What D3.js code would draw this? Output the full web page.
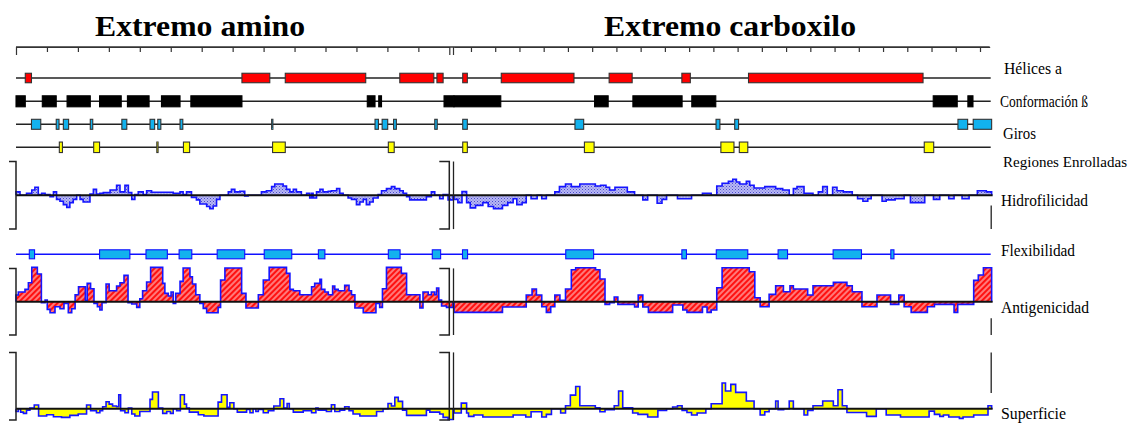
<!DOCTYPE html>
<html>
<head>
<meta charset="utf-8">
<script src="https://cdn.jsdelivr.net/npm/d3@7"></script>
<style>
  body { margin: 0; background: #fff; }
  svg { display: block; }
</style>
</head>
<body>
<svg id="chart" width="1132" height="423"></svg>
<script>
// ---- residue ranges of the two panels ----
const aminoDomain = [0, 140];
const carboxyDomain = [143, 364];
const aminoTicks = d3.range(10, 140, 10);
const carboxyTicks = d3.range(150, 361, 10);

const panelTitles = ["Extremo amino", "Extremo carboxilo"];
const trackNames = ["Hélices a", "Conformación ß", "Giros", "Regiones Enrolladas",
                    "Hidrofilicidad", "Flexibilidad", "Antigenicidad", "Superficie"];

// ---- predicted structural segments [start, end] (residues) ----
const helixAmino   = [[3,5],[73,82],[87,113],[124,135],[136,138]];
const helixCarboxy = [[146.6,148.5],[162.5,192.5],[207,216.5],[237,240.5],[264.5,336.5]];

const betaAmino   = [[0,3],[8.5,13],[16.5,24],[27,34],[36,43],[47,53],[56.5,73],[113.5,116],[117.2,118.1],[138.3,141.5]];
const betaCarboxy = [[143,162.3],[201,206.6],[216.8,237.1],[241.1,251],[340.7,350.6],[355,357.1]];

const turnAmino   = [[5,8],[13,13.9],[15.3,17],[24,24.8],[34.2,35.8],[43.3,44.8],[45.8,46.8],[53,53.9],[82.6,83],[116,117.1],[118.3,120.1],[122,122.9],[135.3,136.1]];
const turnCarboxy = [[146.6,148.5],[192.9,196.5],[251.1,252.7],[258.8,260.4],[350.9,354.9],[357.2,364.8]];

const coilAmino   = [[14,15],[25.1,27],[45.5,45.9],[54.1,56.1],[82.9,87],[120.3,122.2]];
const coilCarboxy = [[146.6,148.5],[196.8,200.8],[253.1,258.5],[260.7,264.2],[337,340.9]];

const flexAmino   = [[4.3,6],[27,36.8],[42,48.9],[52.7,56.8],[65,73.9],[80.2,89.1],[97.7,99.8],[120.3,124.1],[134.5,137.2]];
const flexCarboxy = [[146.5,148.6],[189.1,200.6],[237,238.9],[251.2,264.2],[276.7,280.6],[299.4,311.1],[323.2,324.5]];

// ---- profiles: [start residue, value], each step runs to the next start ----
const profileEndAmino = 141.2;
const profileEndCarboxy = 364.8;

const hydroAmino = [[0,0.3],[1.3,0],[3.4,0.18],[5.1,0.47],[6.1,0.71],[7.2,0.06],[8.3,0.18],[9.4,0.06],[11,-0.12],[12.1,0.3],[13.1,-0.36],[14.2,-0.53],[15.3,-0.83],[16.4,-1.07],[17.4,-0.65],[18.5,-0.36],[19.6,0],[20.7,-0.36],[21.7,-0.59],[23.9,0.12],[25,0.53],[26,0.12],[27.1,0.18],[28.2,0.24],[30.4,0.47],[32.5,0.89],[33.6,0.3],[35.2,0.89],[36.3,0.24],[37.4,-0.36],[38.4,0.06],[39.5,0.3],[41.1,0.06],[42.2,0.41],[43.8,0.27],[50.8,0.18],[53,0.3],[54,0.06],[55.1,0.3],[56.7,-0.18],[58.3,-0.41],[59.4,-0.77],[61.6,-1.0],[62.6,-1.18],[63.7,-0.95],[64.8,-0.36],[65.9,0],[68.6,0.3],[69.6,0.53],[70.7,0.3],[72.3,0.36],[73.9,-0.06],[75,0],[79.3,0.3],[80.9,0.41],[82.6,0.77],[83.6,1.0],[86.3,0.83],[87.4,0.53],[88.5,0.3],[89.6,0.53],[90.6,0.3],[92.2,0],[93.9,0.18],[94.9,-0.24],[95.5,0.18],[96,-0.24],[97.1,0.3],[98.2,0.53],[99.2,0.3],[100.9,0.36],[101.9,0.41],[103.6,0.59],[104.6,0.18],[105.7,0],[107.3,-0.24],[108.4,-0.36],[110,-0.83],[111.1,-0.59],[112.2,-0.36],[113.2,-0.83],[114.3,-0.59],[115.4,-0.24],[117,0.06],[118.1,0.41],[119.7,0.59],[121.3,0.77],[122.4,0.59],[124,0.41],[125.1,0.18],[126.2,-0.12],[127.2,-0.41],[132.6,-0.12],[134.2,0.3],[135.3,0],[136.9,-0.3],[138,0.06],[139.6,-0.41]];

const hydroCarboxy = [[143,-0.36],[144.6,-0.65],[146.3,0.33],[148.2,-0.65],[149.7,-1.12],[151.9,-0.89],[154.9,-0.65],[157.1,-1.0],[159.3,-1.18],[163,-0.89],[165.2,-0.65],[167.4,-0.3],[168.9,-0.83],[171.1,-0.65],[172.8,0],[174.8,-0.3],[177.3,0],[179.2,-0.3],[181.1,0],[184.6,0.3],[186.5,0.77],[189,1.0],[191.4,0.77],[194.9,1.0],[201.3,0.83],[203.5,0.89],[205.7,0.71],[207.2,0.47],[209.4,0.71],[214.5,0.3],[217.5,0],[220.9,-0.41],[222.9,0],[226.8,-0.71],[228.8,-0.36],[230.7,0],[235.2,-0.3],[241,0],[245.5,0.18],[249.1,0],[251.4,0.83],[253.6,1.07],[256.2,1.24],[258,1.42],[259.5,1.18],[260.9,1.0],[263.6,1.24],[265,0.89],[266.8,0.65],[271.2,0.77],[275.7,0.59],[278.6,0.47],[281.3,0],[283,0.59],[284.5,0.77],[287.4,0.18],[291.1,0],[293.3,0.3],[295.1,0.77],[297,0],[299.2,0.71],[301,0.41],[303.6,0.3],[307.3,0],[309.5,-0.3],[311.7,-0.53],[313.7,-0.3],[315.1,0],[319.6,-0.53],[321.3,-0.41],[325,-0.3],[328.7,0],[331.3,-0.65],[337.2,0],[340.8,-0.36],[343.4,0],[347.1,-0.3],[349.3,0],[352.6,-0.3],[355.5,0],[358.9,0.41],[362.6,0.3]];

const antigAmino = [[0,0.6],[0.75,0.87],[2.9,1.11],[4,1.71],[5.1,3.09],[6.9,2.49],[8.2,-0.09],[9.4,0.15],[10.1,-0.69],[11,-0.99],[12.6,-0.45],[14.2,-0.63],[15.5,-0.15],[16.9,-0.99],[18,-0.63],[19.1,0.63],[20.2,1.35],[22.4,0.1],[23,1.65],[24.1,1.17],[25.2,-0.15],[26.3,-0.45],[27.1,-0.75],[27.8,-0.1],[29.1,1.59],[30.1,0.99],[32.5,1.41],[33.6,1.71],[34.9,2.37],[36.2,-0.09],[37.4,-0.21],[39,-0.51],[40,0.27],[40.9,0.99],[42.2,1.77],[43.5,3.09],[47.4,1.65],[48.1,0.75],[49.2,0.51],[50.1,0.87],[50.8,-0.15],[51.6,0.75],[53,1.83],[54,3.03],[56.2,2.25],[57,1.59],[58.1,0.63],[59.4,-0.15],[60.5,-0.6],[61.6,-0.99],[65.3,-0.51],[66.1,1.95],[67.5,3.03],[72.9,0.75],[74.3,-0.57],[78.3,0.63],[79.9,1.95],[81.8,3.09],[87.4,2.55],[88.5,1.11],[89.6,0.99],[91.7,0.63],[95.5,1.35],[96.5,1.65],[98.2,2.01],[98.7,1.11],[99.8,0.87],[100.9,0.63],[102.3,1.41],[103,1.11],[104.1,0.99],[106.2,1.47],[107.6,0.99],[108.4,0.63],[109.5,-0.57],[112.2,-0.99],[116.3,-0.15],[117.5,-0.51],[118.4,1.17],[119.7,3.09],[124.5,2.55],[126.2,0.63],[130.5,-0.57],[131.5,0.87],[133.2,0.63],[134.2,0.87],[135.3,0.63],[135.9,1.23],[136.6,0.15],[137.5,-0.39],[139.1,-0.51]];

const antigCarboxy = [[143,-0.96],[163,-0.48],[172.8,0.6],[175.2,1.14],[177,0.6],[179.2,-0.45],[181.1,-0.96],[182.9,-0.45],[184.6,0.6],[186.7,0.12],[189,1.14],[191.4,2.88],[193.2,3.06],[201.4,2.88],[203.2,2.04],[205.3,-0.24],[207.2,-0.1],[209.1,0.42],[210.6,-0.24],[217.5,-0.48],[219,0.6],[220.9,-0.48],[223.2,-0.96],[233.2,-0.3],[237.4,-0.75],[239.1,-0.96],[245.5,-0.48],[247.4,-0.96],[249.1,-0.75],[251.4,1.26],[253.6,3.06],[264.8,2.7],[267.1,0.36],[269.3,-0.45],[273,0.66],[275.7,1.44],[278.9,0.9],[281.6,1.44],[283,1.14],[288.9,0.6],[291.1,1.44],[299.5,1.74],[305.1,1.44],[307.3,0.9],[311.3,-0.45],[317.5,0.6],[323.1,-0.24],[326.5,0.6],[328.7,-0.45],[331.6,-0.96],[338.3,-0.45],[341.2,-0.24],[349.3,-0.96],[350.8,-0.24],[357.4,1.92],[359.3,2.4],[361.4,3.06]];

const surfAmino = [[0,-0.24],[0.75,0],[1.5,-0.3],[2.4,-0.41],[3.4,-0.12],[4.5,0.06],[5.9,0.33],[7.3,-0.65],[9.9,-0.53],[12.1,-0.71],[14.7,-0.77],[17.4,-0.59],[20.1,-0.47],[22.8,0.33],[24.1,-0.18],[26,-0.36],[27.1,-0.18],[28,0.18],[29.1,0.62],[30.1,0.41],[31.2,0.24],[32.5,0.18],[33.2,1.24],[33.8,-0.18],[35.2,-0.36],[36.3,0.06],[37.4,-0.47],[38.4,-0.65],[40,-0.24],[43.3,0.83],[44.1,1.48],[46,0.06],[47.4,-0.41],[48.7,-0.24],[49.9,-0.41],[50.8,0],[51.9,-0.18],[53.1,1.24],[54.4,0.41],[55.1,0.06],[56,-0.3],[58.9,-0.53],[60.7,-0.65],[65.3,0.59],[66.4,1.24],[68.2,0.12],[69.1,0.53],[70.4,0],[71.5,-0.3],[74.5,-0.06],[75.6,-0.36],[76.6,0],[77.5,-0.24],[78.3,-0.06],[79.9,-0.36],[81.5,-0.18],[83.3,0.24],[85.3,0.89],[86.5,0.06],[87.6,0.47],[88.3,0],[89.6,-0.3],[92.8,-0.18],[95.5,-0.36],[96.9,0.06],[97.6,-0.12],[100.3,-0.24],[101.9,0.36],[103,-0.24],[104.6,-0.12],[106.2,0.18],[107.6,-0.18],[108.9,-0.47],[111.1,-0.65],[116.5,-0.24],[118.6,0],[120.2,0.47],[121.3,0.24],[122.4,1.01],[123.5,0.65],[124.9,-0.12],[126.2,-0.59],[132.6,-0.12],[133.7,-0.3],[136.9,-0.47],[138,-0.77],[139.6,-0.95]];

const surfCarboxy = [[143,-0.38],[146,0.5],[148.2,-0.38],[149,-0.68],[151.2,-0.56],[154.9,-0.74],[167.4,-0.56],[172.6,-0.74],[174.8,-0.27],[179.2,-0.74],[181.1,-0.5],[183.2,0],[187,-0.38],[189,0.27],[191,1.21],[193.2,1.98],[194.9,0.27],[201.3,0.09],[203.2,-0.27],[205.3,-0.09],[209.1,0.27],[210.9,1.57],[212.6,0.09],[216.7,-0.38],[218.9,-0.5],[222.9,-0.74],[227.1,-0.15],[230.7,0],[233.2,0.15],[235.2,0.27],[237.1,-0.15],[239.1,-0.33],[241,-0.56],[243.3,-0.38],[246.9,0],[249.1,0.44],[253.6,2.28],[255,1.57],[257.2,2.16],[259.2,1.45],[263.6,0.68],[266.8,0],[269.3,-0.56],[271.2,-0.27],[273,0],[275.7,0.68],[276.7,-0.09],[279,0],[281.3,0.68],[283,0],[287.4,-0.56],[288.9,-0.15],[291.1,0.27],[295.1,0.68],[299.5,0.27],[301.4,1.69],[303.2,0.27],[305.1,-0.33],[313.2,-0.68],[317.2,0],[321.3,-0.56],[327.2,-0.74],[339,-0.21],[341.2,-0.5],[343.4,-0.68],[344.9,-0.56],[347.1,-0.74],[351.5,-0.86],[353,-0.74],[357.4,-0.56],[363.3,0.27]];

// ---- drawing ----
const svg = d3.select("#chart");
svg.append("rect").attr("width", 1132).attr("height", 423).attr("fill", "#fff");

const xA = d3.scaleLinear().domain(aminoDomain).range([16, 449.3]);
const xC = d3.scaleLinear().domain(carboxyDomain).range([454, 989.7]);
const panels = [
  { x: xA, end: profileEndAmino },
  { x: xC, end: profileEndCarboxy }
];

const defs = svg.append("defs");
// stippled fill for hydrophilicity
const dots = defs.append("pattern").attr("id", "dots").attr("width", 3).attr("height", 3)
  .attr("patternUnits", "userSpaceOnUse");
dots.append("rect").attr("width", 3).attr("height", 3).attr("fill", "#b8b8f2");
dots.append("rect").attr("width", 1).attr("height", 1).attr("fill", "#4a4ad0");
dots.append("rect").attr("x", 1.5).attr("y", 1.5).attr("width", 1).attr("height", 1).attr("fill", "#6a6ae0");
// hatched red fill for antigenicity
const hatch = defs.append("pattern").attr("id", "hatch").attr("width", 4).attr("height", 4)
  .attr("patternUnits", "userSpaceOnUse").attr("patternTransform", "rotate(45)");
hatch.append("rect").attr("width", 4).attr("height", 4).attr("fill", "#ff1010");
hatch.append("line").attr("x1", 1).attr("x2", 1).attr("y1", 0).attr("y2", 4)
  .attr("stroke", "#ffd0d0").attr("stroke-width", 1.1);

// titles
const titleFont = "'Liberation Serif', 'Times New Roman', serif";
const titleLayout = [{ cx: 200, w: 210 }, { cx: 730, w: 252 }];
panelTitles.forEach((t, i) => {
  svg.append("text").attr("x", titleLayout[i].cx).attr("y", 36)
    .attr("text-anchor", "middle").attr("font-family", titleFont)
    .attr("font-weight", "bold").attr("font-size", 30)
    .attr("textLength", titleLayout[i].w).attr("lengthAdjust", "spacingAndGlyphs")
    .attr("fill", "#000").text(t);
});

// residue ruler
const rulerY = 47;
svg.append("line").attr("x1", xA(aminoDomain[0])).attr("x2", xC(carboxyDomain[1]))
  .attr("y1", rulerY).attr("y2", rulerY).attr("stroke", "#333").attr("stroke-width", 1.4);
const rulerA = d3.axisBottom(xA).tickValues(aminoTicks).tickSize(5).tickSizeOuter(8).tickFormat("");
const rulerC = d3.axisBottom(xC).tickValues(carboxyTicks).tickSize(5).tickSizeOuter(0).tickFormat("");
[rulerA, rulerC].forEach(ax => {
  const g = svg.append("g").attr("transform", `translate(0,${rulerY})`).call(ax);
  g.selectAll("path, line").attr("stroke", "#333").attr("stroke-width", 1.2);
});
svg.append("line").attr("x1", xC(carboxyDomain[0]) - 0.5).attr("x2", xC(carboxyDomain[0]) - 0.5)
  .attr("y1", rulerY).attr("y2", rulerY + 8).attr("stroke", "#333").attr("stroke-width", 1.2);

// segment tracks
const tracks = [
  { y: 78,    h: 9.5, fill: "#ff0000", stroke: "#333", line: "#222", data: [helixAmino, helixCarboxy] },
  { y: 101.3, h: 11,  fill: "#000",    stroke: "#000", line: "#222", data: [betaAmino, betaCarboxy] },
  { y: 124.3, h: 10,  fill: "#12b2ee", stroke: "#333", line: "#222", data: [turnAmino, turnCarboxy] },
  { y: 147.3, h: 10.5,fill: "#ffff00", stroke: "#333", line: "#222", data: [coilAmino, coilCarboxy] },
  { y: 254.3, h: 9,   fill: "#12b2ee", stroke: "#1010ff", line: "#1010ff", data: [flexAmino, flexCarboxy] }
];
tracks.forEach(t => {
  svg.append("line").attr("x1", xA(aminoDomain[0])).attr("x2", xC(carboxyDomain[1]) + 1)
    .attr("y1", t.y).attr("y2", t.y).attr("stroke", t.line).attr("stroke-width", 1.5);
  t.data.forEach((segs, i) => {
    const x = panels[i].x;
    svg.append("g").selectAll("rect").data(segs).join("rect")
      .attr("x", d => x(d[0])).attr("width", d => Math.max(0.6, x(d[1]) - x(d[0])))
      .attr("y", t.y - t.h / 2).attr("height", t.h)
      .attr("fill", t.fill).attr("stroke", t.stroke).attr("stroke-width", 1.1);
  });
});

// profile panels
const profiles = [
  { domain: [-3, 3], range: [229.1, 161.5], fill: "url(#dots)", data: [hydroAmino, hydroCarboxy], edge: [-0.9, -3] },
  { domain: [-3, 3], range: [335, 268.4],   fill: "url(#hatch)", data: [antigAmino, antigCarboxy], edge: [-1.5, -3] },
  { domain: [-1, 5], range: [420, 352.4],   fill: "#ffff00",     data: [surfAmino, surfCarboxy], edge: [1.4, 5] }
];

profiles.forEach(p => {
  const y = d3.scaleLinear().domain(p.domain).range(p.range);
  const [yTop, yBot] = [y(p.domain[1]), y(p.domain[0])];
  p.data.forEach((steps, i) => {
    const { x, end } = panels[i];
    const pts = [[steps[0][0], 0], ...steps, [end, steps[steps.length - 1][1]], [end, 0]];
    const area = d3.area().curve(d3.curveStepAfter)
      .x(d => x(d[0])).y0(y(0)).y1(d => y(d[1]));
    const line = d3.line().curve(d3.curveStepAfter)
      .x(d => x(d[0])).y(d => y(d[1]));
    svg.append("path").attr("d", area(pts)).attr("fill", p.fill);
    svg.append("path").attr("d", line(pts)).attr("fill", "none")
      .attr("stroke", "#1515ff").attr("stroke-width", 1.6).attr("stroke-linejoin", "miter");
    // zero line of the panel
    svg.append("line").attr("x1", x(x.domain()[0])).attr("x2", i === 0 ? x(end) : x(end) + 1)
      .attr("y1", y(0)).attr("y2", y(0)).attr("stroke", "#111").attr("stroke-width", 2);
  });
  // brackets around the amino panel
  const xl = xA(aminoDomain[0]), xr = xA(aminoDomain[1]);
  svg.append("path").attr("d", `M${xl - 7},${yTop}H${xl}V${yBot}H${xl - 7}`)
    .attr("fill", "none").attr("stroke", "#222").attr("stroke-width", 1.5);
  svg.append("path").attr("d", `M${xr - 10},${yTop}H${xr}V${yBot}H${xr - 10}`)
    .attr("fill", "none").attr("stroke", "#222").attr("stroke-width", 1.5);
  // left border of the carboxy panel
  const xs = xC(carboxyDomain[0]) - 0.5;
  svg.append("line").attr("x1", xs).attr("x2", xs).attr("y1", yTop).attr("y2", yBot)
    .attr("stroke", "#222").attr("stroke-width", 1.3);
  // right border mark of the carboxy panel
  const xe = xC(carboxyDomain[1]) + 1.5;
  svg.append("line").attr("x1", xe).attr("x2", xe).attr("y1", y(p.edge[0])).attr("y2", y(p.edge[1]))
    .attr("stroke", "#222").attr("stroke-width", 1.3);
});

// track labels
const labelFont = "'Liberation Serif', 'Times New Roman', serif";
const labelLayout = [
  { x: 1004, y: 73.5, w: 58, fs: 17 }, { x: 1000, y: 106.5, w: 88, fs: 17 }, { x: 1003, y: 138.5, w: 33, fs: 17 },
  { x: 1003, y: 166.5, w: 124, fs: 15 }, { x: 1001, y: 205.5, w: 87, fs: 17 }, { x: 1001, y: 255.5, w: 74, fs: 17 },
  { x: 1001, y: 312.5, w: 88, fs: 17 }, { x: 1001, y: 418.5, w: 65, fs: 17 }
];
trackNames.forEach((name, i) => {
  const L = labelLayout[i];
  svg.append("text").attr("x", L.x).attr("y", L.y)
    .attr("font-family", labelFont).attr("font-size", L.fs)
    .attr("textLength", L.w).attr("lengthAdjust", "spacingAndGlyphs")
    .attr("fill", "#000").text(name);
});
</script>
</body>
</html>
